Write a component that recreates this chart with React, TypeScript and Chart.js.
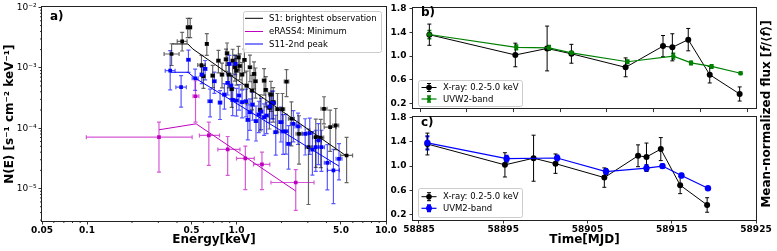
import React, { useEffect, useRef } from 'react';
import { Chart, registerables } from 'chart.js';

Chart.register(...registerables);
const FONT = "'DejaVu Sans', 'Liberation Sans', sans-serif";
Chart.defaults.font.family = FONT;
Chart.defaults.color = '#000';

// ---------------- Panel a: spectra ----------------
const s1Energy = [0.368, 0.433, 0.472, 0.490, 0.583, 0.601, 0.633, 0.693, 0.757, 0.800,
  0.851, 0.865, 0.887, 0.929, 0.943, 0.977, 1.00, 1.03, 1.05, 1.09,
  1.13, 1.17, 1.23, 1.27, 1.31, 1.34, 1.44, 1.53, 1.57, 1.66,
  1.70, 1.76, 1.88, 2.03, 2.16, 2.33, 2.62, 3.03, 3.39, 3.66,
  3.85, 4.23, 4.61, 5.45];
const s1Flux = [1.69e-3, 2.74e-3, 4.67e-3, 4.67e-3, 1.11e-3, 7.24e-4, 2.48e-3, 7.43e-4, 1.31e-3, 7.71e-4,
  1.38e-3, 1.74e-3, 7.71e-4, 4.42e-4, 1.31e-3, 1.02e-3, 8.97e-4, 1.49e-3, 1.07e-3, 7.71e-4,
  1.35e-3, 5.07e-4, 1.02e-3, 4.20e-4, 7.91e-4, 5.98e-4, 2.01e-4, 6.13e-4, 4.30e-4, 2.17e-4,
  3.60e-4, 2.69e-4, 2.06e-4, 2.06e-4, 5.9e-4, 1.43e-4, 8.05e-5, 4.85e-5, 7.1e-5, 7.0e-5,
  2.09e-4, 1.04e-4, 1.11e-4, 3.53e-5];
const s1EnergyErrDex = [0.05, 0.033, 0.01, 0.01, 0.025, 0.01, 0.01, 0.012, 0.012, 0.012,
  0.012, 0.012, 0.012, 0.012, 0.012, 0.012, 0.012, 0.012, 0.012, 0.012,
  0.012, 0.012, 0.012, 0.012, 0.012, 0.012, 0.012, 0.012, 0.012, 0.015,
  0.015, 0.015, 0.015, 0.015, 0.015, 0.02, 0.02, 0.02, 0.02, 0.02,
  0.02, 0.04, 0.02, 0.04];
const s1FluxErrUpDex = [0.17, 0.15, 0.15, 0.15, 0.16, 0.18, 0.17, 0.17, 0.17, 0.19,
  0.17, 0.17, 0.19, 0.22, 0.19, 0.2, 0.2, 0.18, 0.2, 0.2,
  0.18, 0.24, 0.2, 0.25, 0.2, 0.22, 0.25, 0.2, 0.22, 0.25,
  0.22, 0.24, 0.26, 0.26, 0.2, 0.28, 0.3, 0.3, 0.3, 0.3,
  0.2, 0.28, 0.28, 0.3];
const s1FluxErrDnDex = [0.19, 0.16, 0.17, 0.17, 0.18, 0.2, 0.19, 0.2, 0.2, 0.22,
  0.2, 0.2, 0.22, 0.3, 0.22, 0.23, 0.24, 0.21, 0.23, 0.24,
  0.21, 0.3, 0.24, 0.32, 0.25, 0.28, 0.35, 0.24, 0.28, 0.35,
  0.28, 0.33, 0.38, 0.36, 0.25, 0.45, 0.5, 0.95, 0.5, 0.5,
  0.25, 0.4, 0.4, 0.45];

const s11Energy = [0.360, 0.426, 0.477, 0.529, 0.586, 0.617, 0.666, 0.711, 0.776, 0.830,
  0.873, 0.896, 0.919, 0.982, 0.943, 1.00, 1.04, 1.09, 1.16, 1.19,
  1.23, 1.28, 1.35, 1.41, 1.46, 1.53, 1.59, 1.67, 1.72, 1.76,
  1.83, 1.98, 2.05, 2.14, 2.23, 2.40, 2.58, 2.88, 3.09, 3.22,
  3.39, 3.53, 3.70, 4.05, 4.45, 4.85];
const s11Flux = [8.97e-4, 4.77e-4, 1.36e-3, 6.70e-4, 7.71e-4, 9.57e-4, 2.79e-4, 5.98e-4, 2.65e-4, 3.60e-4,
  5.61e-4, 1.16e-3, 5.07e-4, 1.16e-3, 2.94e-4, 2.87e-4, 3.47e-4, 2.69e-4, 2.79e-4, 1.37e-4,
  1.84e-4, 2.46e-4, 1.31e-4, 1.68e-4, 1.88e-4, 1.52e-4, 1.62e-4, 2.28e-4, 2.59e-4, 2.59e-4,
  8.59e-5, 1.26e-4, 8.8e-5, 8.9e-5, 5.5e-5, 1.18e-4, 1.07e-4, 8.05e-5, 8.26e-5, 4.39e-5,
  4.85e-5, 6.25e-5, 4.85e-5, 2.67e-5, 2.0e-5, 3.11e-5];
const s11EnergyErrDex = [0.033, 0.035, 0.012, 0.02, 0.012, 0.012, 0.015, 0.012, 0.012, 0.012,
  0.012, 0.012, 0.012, 0.012, 0.012, 0.012, 0.012, 0.012, 0.012, 0.012,
  0.012, 0.012, 0.012, 0.012, 0.012, 0.012, 0.012, 0.015, 0.015, 0.015,
  0.015, 0.015, 0.015, 0.015, 0.015, 0.02, 0.02, 0.02, 0.02, 0.02,
  0.02, 0.02, 0.02, 0.02, 0.04, 0.02];
const s11FluxErrUpDex = [0.33, 0.19, 0.16, 0.15, 0.12, 0.14, 0.2, 0.15, 0.2, 0.18,
  0.15, 0.14, 0.17, 0.14, 0.2, 0.2, 0.18, 0.2, 0.2, 0.25,
  0.22, 0.2, 0.25, 0.22, 0.22, 0.22, 0.22, 0.2, 0.2, 0.2,
  0.28, 0.25, 0.28, 0.28, 0.3, 0.22, 0.22, 0.25, 0.25, 0.3,
  0.28, 0.28, 0.28, 0.3, 0.35, 0.25];
const s11FluxErrDnDex = [0.32, 0.33, 0.21, 0.2, 0.15, 0.18, 0.26, 0.2, 0.28, 0.24,
  0.2, 0.18, 0.22, 0.18, 0.26, 0.26, 0.24, 0.26, 0.26, 0.33,
  0.3, 0.26, 0.33, 0.3, 0.3, 0.3, 0.3, 0.26, 0.26, 0.26,
  0.38, 0.33, 0.38, 0.38, 0.42, 0.3, 0.3, 0.35, 0.35, 0.42,
  0.4, 0.4, 0.4, 0.45, 0.55, 0.35];

const eraEnergy = [0.303, 0.532, 0.653, 0.873, 1.146, 1.48, 2.49];
const eraEnergyLo = [0.099, 0.512, 0.565, 0.75, 1.0, 1.30, 1.70];
const eraEnergyHi = [0.505, 0.56, 0.77, 1.055, 1.315, 1.67, 3.30];
const eraFlux = [7.1e-5, 3.38e-4, 7.57e-5, 4.44e-5, 3.15e-5, 2.51e-5, 1.26e-5];
const eraFluxLo = [1.87e-5, 1.26e-4, 2.42e-5, 1.65e-5, 9.57e-6, 9.6e-6, 4.35e-6];
const eraFluxHi = [1.26e-4, 6.1e-4, 1.26e-4, 7.28e-5, 5.05e-5, 4.0e-5, 2.05e-5];

const s1ModelEnergy = [0.372, 0.473, 0.51, 5.37];
const s1ModelFlux = [2.48e-3, 2.48e-3, 2.05e-3, 3.53e-5];
const s11ModelEnergy = [0.362, 0.473, 0.526, 4.85];
const s11ModelFlux = [8.43e-4, 8.43e-4, 6.79e-4, 2.35e-5];
const eraModelEnergy = [0.303, 0.537, 2.49];
const eraModelFlux = [9.4e-5, 1.18e-4, 9.1e-6];

const energyTicks = [0.05, 0.1, 0.5, 1, 5, 10];
const energyTickLabels = ['0.05', '0.1', '0.5', '1.0', '5.0', '10.0'];
const fluxTicks = [1e-5, 1e-4, 1e-3, 1e-2];
const fluxTickLabels = ['10⁻⁵', '10⁻⁴', '10⁻³', '10⁻²'];
const legendA = ['S1: brightest observation', 'eRASS4: Minimum', 'S11-2nd peak'];

// ---------------- Panels b, c: light curves ----------------
const xrayMjd = [58886.0, 58895.2, 58898.6, 58901.2, 58907.0, 58911.0, 58912.0, 58913.7, 58916.0, 58919.2];
const xrayFlux = [1.364, 1.02, 1.13, 1.04, 0.81, 1.17, 1.15, 1.28, 0.685, 0.358];
const xrayErr = [0.18, 0.2, 0.38, 0.16, 0.16, 0.18, 0.23, 0.19, 0.14, 0.12];
const uvw2Mjd = [58886.0, 58895.3, 58898.8, 58901.2, 58907.2, 58912.1, 58914.0, 58916.2, 58919.3];
const uvw2Flux = [1.367, 1.15, 1.14, 1.055, 0.905, 1.0, 0.885, 0.825, 0.71];
const uvw2Err = [0.07, 0.04, 0.04, 0.03, 0.03, 0.05, 0.03, 0.03, 0.02];
const uvm2Mjd = [58886.0, 58895.4, 58901.4, 58907.2, 58912.0, 58913.9, 58916.15, 58919.3];
const uvm2Flux = [1.383, 1.122, 1.133, 0.91, 0.967, 1.0, 0.845, 0.633];
const uvm2Err = [0.11, 0.05, 0.04, 0.04, 0.05, 0.03, 0.03, 0.02];
const normTicks = [0.2, 0.6, 1.0, 1.4, 1.8];
const mjdTicksB = [58885, 58890, 58895, 58900, 58905, 58910, 58915, 58920];
const mjdTicksC = [58885, 58895, 58905, 58915, 58925];

const BLACK = '#000000', MAG = '#bf00bf', BLUE = '#0000ff', GREEN = '#008000';

const pts = (xs: number[], ys: number[]) => xs.map((x, i) => ({ x, y: ys[i] }));
const dexLo = (v: number[], d: number[]) => v.map((x, i) => x * Math.pow(10, -d[i]));
const dexHi = (v: number[], d: number[]) => v.map((x, i) => x * Math.pow(10, d[i]));
const minus = (v: number[], e: number[]) => v.map((x, i) => x - e[i]);
const plus = (v: number[], e: number[]) => v.map((x, i) => x + e[i]);

const errorBarPlugin = {
  id: 'errorBars',
  beforeDatasetsDraw(chart: any) {
    const ctx = chart.ctx;
    const a = chart.chartArea;
    ctx.save();
    ctx.beginPath();
    ctx.rect(a.left, a.top - 2, a.right - a.left, a.bottom - a.top + 4);
    ctx.clip();
    chart.data.datasets.forEach((ds: any) => {
      const e = ds.errorBars;
      if (!e) return;
      const xs = chart.scales[ds.xAxisID || 'x'];
      const ys = chart.scales[ds.yAxisID || 'y'];
      ctx.strokeStyle = e.color;
      ctx.lineWidth = e.width;
      ds.data.forEach((p: any, j: number) => {
        const px = xs.getPixelForValue(p.x);
        const py = ys.getPixelForValue(p.y);
        ctx.beginPath();
        if (e.xlo) {
          const l = xs.getPixelForValue(e.xlo[j]);
          const r = xs.getPixelForValue(e.xhi[j]);
          ctx.moveTo(l, py); ctx.lineTo(r, py);
          if (e.cap) {
            ctx.moveTo(l, py - e.cap); ctx.lineTo(l, py + e.cap);
            ctx.moveTo(r, py - e.cap); ctx.lineTo(r, py + e.cap);
          }
        }
        if (e.ylo) {
          const b = ys.getPixelForValue(e.ylo[j]);
          const t = ys.getPixelForValue(e.yhi[j]);
          ctx.moveTo(px, b); ctx.lineTo(px, t);
          if (e.cap) {
            ctx.moveTo(px - e.cap, b); ctx.lineTo(px + e.cap, b);
            ctx.moveTo(px - e.cap, t); ctx.lineTo(px + e.cap, t);
          }
        }
        ctx.stroke();
      });
    });
    ctx.restore();
  },
};

type LegendRow = { label: string; color: string; y: number; lw?: number; marker?: number; err?: number; errW?: number };
type LegendSpec = { x: number; y: number; w: number; h: number; x0: number; x1: number; tx: number; size: number; rows: LegendRow[] };

function drawLegend(ctx: CanvasRenderingContext2D, L: LegendSpec) {
  ctx.save();
  ctx.fillStyle = 'rgba(255,255,255,0.85)';
  ctx.strokeStyle = '#cccccc';
  ctx.lineWidth = 1;
  ctx.beginPath();
  (ctx as any).roundRect(L.x + 0.5, L.y + 0.5, L.w, L.h, 2);
  ctx.fill();
  ctx.stroke();
  ctx.font = `${L.size}px ${FONT}`;
  ctx.textBaseline = 'middle';
  ctx.textAlign = 'left';
  L.rows.forEach((r) => {
    ctx.strokeStyle = r.color;
    ctx.lineWidth = r.lw ?? 1;
    ctx.beginPath();
    ctx.moveTo(L.x0, r.y);
    ctx.lineTo(L.x1, r.y);
    ctx.stroke();
    if (r.marker) {
      const cx = (L.x0 + L.x1) / 2;
      const e = r.err ?? 4;
      ctx.lineWidth = r.errW ?? 1;
      ctx.beginPath();
      ctx.moveTo(cx, r.y - e); ctx.lineTo(cx, r.y + e);
      ctx.moveTo(cx - 2, r.y - e); ctx.lineTo(cx + 2, r.y - e);
      ctx.moveTo(cx - 2, r.y + e); ctx.lineTo(cx + 2, r.y + e);
      ctx.stroke();
      ctx.fillStyle = r.color;
      ctx.beginPath();
      ctx.arc(cx, r.y, r.marker, 0, Math.PI * 2);
      ctx.fill();
    }
    ctx.fillStyle = '#000';
    ctx.fillText(r.label, L.tx, r.y + 0.5);
  });
  ctx.restore();
}

type DecorOpts = {
  label: { text: string; x: number; y: number };
  legend: LegendSpec;
  minorX?: number[];
  minorY?: number[];
  extra?: (ctx: CanvasRenderingContext2D) => void;
};

function decor(o: DecorOpts) {
  return {
    id: 'decor',
    afterDraw(chart: any) {
      const ctx: CanvasRenderingContext2D = chart.ctx;
      const a = chart.chartArea;
      ctx.save();
      ctx.strokeStyle = '#000';
      ctx.lineWidth = 0.8;
      ctx.beginPath();
      (o.minorX || []).forEach((v) => {
        const px = chart.scales.x.getPixelForValue(v);
        ctx.moveTo(px, a.bottom); ctx.lineTo(px, a.bottom + 2);
      });
      (o.minorY || []).forEach((v) => {
        const py = chart.scales.y.getPixelForValue(v);
        ctx.moveTo(a.left, py); ctx.lineTo(a.left - 2, py);
      });
      ctx.stroke();
      ctx.strokeStyle = '#222';
      ctx.lineWidth = 1;
      ctx.strokeRect(Math.round(a.left) - 0.5, Math.round(a.top) - 0.5, Math.round(a.right - a.left) + 1, Math.round(a.bottom - a.top) + 1);
      ctx.fillStyle = '#000';
      ctx.font = `bold 12px ${FONT}`;
      ctx.textBaseline = 'middle';
      ctx.textAlign = 'left';
      ctx.fillText(o.label.text, o.label.x, o.label.y);
      ctx.restore();
      drawLegend(ctx, o.legend);
      if (o.extra) o.extra(ctx);
    },
  };
}

const tickGrid = { display: true, drawOnChartArea: false, drawTicks: true, tickLength: 3.5, tickWidth: 0.8, color: '#000', tickColor: '#000' };
const tickFont = { size: 9, weight: 'bold' as const };

function configA(): any {
  const minorX: number[] = [];
  [0.01, 0.1, 1].forEach((d) => {
    for (let k = 2; k <= 9; k++) {
      const v = k * d;
      if (k !== 5 && v > 0.05 && v < 10) minorX.push(v);
    }
  });
  const minorY: number[] = [];
  [1e-6, 1e-5, 1e-4, 1e-3].forEach((d) => {
    for (let k = 2; k <= 9; k++) {
      const v = k * d;
      if (v >= 2.9e-6 && v < 1e-2) minorY.push(v);
    }
  });
  return {
    type: 'scatter',
    data: {
      datasets: [
        { label: legendA[0], data: pts(s1ModelEnergy, s1ModelFlux), showLine: true, borderColor: BLACK, borderWidth: 1, pointRadius: 0, tension: 0, order: 0 },
        { label: legendA[1], data: pts(eraModelEnergy, eraModelFlux), showLine: true, borderColor: MAG, borderWidth: 1, pointRadius: 0, tension: 0, order: 0 },
        { label: legendA[2], data: pts(s11ModelEnergy, s11ModelFlux), showLine: true, borderColor: BLUE, borderWidth: 1, pointRadius: 0, tension: 0, order: 0 },
        {
          label: 'S11 data', data: pts(s11Energy, s11Flux), pointStyle: 'rect', pointRadius: 2.6, pointBackgroundColor: BLUE, pointBorderWidth: 0, order: 1,
          errorBars: { xlo: dexLo(s11Energy, s11EnergyErrDex), xhi: dexHi(s11Energy, s11EnergyErrDex), ylo: dexLo(s11Flux, s11FluxErrDnDex), yhi: dexHi(s11Flux, s11FluxErrUpDex), color: 'rgba(0,0,255,0.65)', width: 1.2, cap: 2 },
        },
        {
          label: 'S1 data', data: pts(s1Energy, s1Flux), pointStyle: 'rect', pointRadius: 2.6, pointBackgroundColor: BLACK, pointBorderWidth: 0, order: 2,
          errorBars: { xlo: dexLo(s1Energy, s1EnergyErrDex), xhi: dexHi(s1Energy, s1EnergyErrDex), ylo: dexLo(s1Flux, s1FluxErrDnDex), yhi: dexHi(s1Flux, s1FluxErrUpDex), color: 'rgba(0,0,0,0.6)', width: 1.2, cap: 2 },
        },
        {
          label: 'eRASS4 data', data: pts(eraEnergy, eraFlux), pointStyle: 'rect', pointRadius: 2.6, pointBackgroundColor: MAG, pointBorderWidth: 0, order: 1,
          errorBars: { xlo: eraEnergyLo, xhi: eraEnergyHi, ylo: eraFluxLo, yhi: eraFluxHi, color: 'rgba(191,0,191,0.65)', width: 1.2, cap: 2 },
        },
      ],
    },
    options: {
      animation: false,
      responsive: false,
      devicePixelRatio: 1,
      events: [],
      layout: { padding: { top: 7, right: 14, left: 0, bottom: 0 } },
      plugins: { legend: { display: false }, tooltip: { enabled: false } },
      scales: {
        x: {
          type: 'logarithmic', min: 0.05, max: 10,
          afterBuildTicks: (s: any) => { s.ticks = energyTicks.map((v) => ({ value: v })); },
          afterFit: (s: any) => { s.height = 30; },
          ticks: { callback: (_v: any, i: number) => energyTickLabels[i], font: tickFont, color: '#000', maxRotation: 0, autoSkip: false, padding: 1 },
          grid: tickGrid, border: { display: false },
          title: { display: true, text: 'Energy[keV]', font: { size: 12, weight: 'bold' }, color: '#000', padding: { top: 0, bottom: 4 } },
        },
        y: {
          type: 'logarithmic', min: 2.9e-6, max: 1e-2,
          afterBuildTicks: (s: any) => { s.ticks = fluxTicks.map((v) => ({ value: v })); },
          afterFit: (s: any) => { s.width = 42; },
          ticks: { callback: (_v: any, i: number) => fluxTickLabels[i], font: { size: 9 }, color: '#000', autoSkip: false, padding: 2 },
          grid: tickGrid, border: { display: false },
          title: { display: true, text: 'N(E) [s⁻¹ cm⁻² keV⁻¹]', font: { size: 12, weight: 'bold' }, color: '#000', padding: { top: 3, bottom: 0 } },
        },
      },
    },
    plugins: [errorBarPlugin, decor({
      label: { text: 'a)', x: 50, y: 16.5 },
      minorX, minorY,
      legend: {
        x: 243, y: 11, w: 138, h: 41, x0: 245, x1: 263, tx: 269, size: 8.5,
        rows: [
          { label: legendA[0], color: BLACK, y: 18.3 },
          { label: legendA[1], color: MAG, y: 31.5 },
          { label: legendA[2], color: BLUE, y: 44 },
        ],
      },
    })],
  };
}

function lcConfig(panel: 'b' | 'c'): any {
  const isB = panel === 'b';
  const uvMjd = isB ? uvw2Mjd : uvm2Mjd;
  const uvFlux = isB ? uvw2Flux : uvm2Flux;
  const uvErr = isB ? uvw2Err : uvm2Err;
  const uvColor = isB ? GREEN : BLUE;
  const uvLabel = isB ? 'UVW2-band' : 'UVM2-band';
  const xTicks = isB ? mjdTicksB : mjdTicksC;
  const top = isB ? 7 : 117;
  const legendTop = isB ? 80 : 188;
  return {
    type: 'scatter',
    data: {
      datasets: [
        {
          label: uvLabel, data: pts(uvMjd, uvFlux), showLine: true, borderColor: uvColor, borderWidth: isB ? 1.2 : 1.2, tension: 0,
          pointRadius: isB ? 2.3 : 3.2, pointBackgroundColor: uvColor, pointBorderWidth: 0, order: 0,
          errorBars: { ylo: minus(uvFlux, uvErr), yhi: plus(uvFlux, uvErr), color: uvColor, width: isB ? 1.5 : 2, cap: 2 },
        },
        {
          label: 'X-ray: 0.2-5.0 keV', data: pts(xrayMjd, xrayFlux), showLine: true, borderColor: BLACK, borderWidth: 1, tension: 0,
          pointRadius: 3, pointBackgroundColor: BLACK, pointBorderWidth: 0, order: 1,
          errorBars: { ylo: minus(xrayFlux, xrayErr), yhi: plus(xrayFlux, xrayErr), color: BLACK, width: 1, cap: 2 },
        },
      ],
    },
    options: {
      animation: false,
      responsive: false,
      devicePixelRatio: 1,
      events: [],
      layout: { padding: { top, right: 21, left: 0, bottom: 0 } },
      plugins: { legend: { display: false }, tooltip: { enabled: false } },
      scales: {
        x: {
          type: 'linear', min: isB ? 58884.25 : 58884.29, max: isB ? 58920.95 : 58925,
          afterBuildTicks: (s: any) => { s.ticks = xTicks.map((v) => ({ value: v })); },
          afterFit: (s: any) => { s.height = isB ? 7 : 31; },
          ticks: { display: !isB, callback: (v: any) => String(v), font: tickFont, color: '#000', maxRotation: 0, autoSkip: false, padding: 1 },
          grid: tickGrid, border: { display: false },
          title: { display: !isB, text: 'Time[MJD]', font: { size: 12, weight: 'bold' }, color: '#000', padding: { top: 0, bottom: 4 } },
        },
        y: {
          type: 'linear', min: 0.11, max: 1.81,
          afterBuildTicks: (s: any) => { s.ticks = normTicks.map((v) => ({ value: v })); },
          afterFit: (s: any) => { s.width = 33; },
          ticks: { callback: (v: any) => Number(v).toFixed(1), font: tickFont, color: '#000', autoSkip: false, padding: 3 },
          grid: tickGrid, border: { display: false },
        },
      },
    },
    plugins: [errorBarPlugin, decor({
      label: { text: isB ? 'b)' : 'c)', x: 41, y: isB ? 13.3 : 122.5 },
      legend: {
        x: 38, y: legendTop, w: 104, h: isB ? 26 : 29, x0: 41.5, x1: 56.5, tx: 63, size: 8.5,
        rows: [
          { label: 'X-ray: 0.2-5.0 keV', color: BLACK, y: legendTop + (isB ? 7.5 : 8.7), marker: 2.8, err: 4, errW: 1 },
          { label: uvLabel, color: uvColor, y: legendTop + (isB ? 19 : 20.3), marker: isB ? 2.2 : 3, err: 3, errW: isB ? 1.5 : 2, lw: 1.2 },
        ],
      },
      extra: isB ? undefined : (ctx) => {
        const parts: [string, string][] = [
          ['Mean-normalized flux [', 'bold'],
          ['f', 'italic bold'],
          ['/⟨', 'bold'],
          ['f', 'italic bold'],
          ['⟩]', 'bold'],
        ];
        ctx.save();
        ctx.translate(387, 114);
        ctx.rotate(-Math.PI / 2);
        ctx.fillStyle = '#000';
        ctx.textBaseline = 'middle';
        ctx.textAlign = 'left';
        let total = 0;
        parts.forEach(([t, st]) => { ctx.font = `${st} 12px ${FONT}`; total += ctx.measureText(t).width; });
        let x = -total / 2;
        parts.forEach(([t, st]) => { ctx.font = `${st} 12px ${FONT}`; ctx.fillText(t, x, 0); x += ctx.measureText(t).width; });
        ctx.restore();
      },
    })],
  };
}

function ChartCanvas({ make, left, top, width, height }: { make: () => any; left: number; top: number; width: number; height: number }) {
  const ref = useRef<HTMLCanvasElement>(null);
  useEffect(() => {
    const chart = new Chart(ref.current as HTMLCanvasElement, make());
    return () => chart.destroy();
  }, []);
  return (
    <canvas
      ref={ref}
      width={width}
      height={height}
      style={{ position: 'absolute', left, top, width, height }}
    />
  );
}

export default function App() {
  return (
    <div style={{ position: 'fixed', left: 0, top: 0, width: 777, height: 251, background: '#fff', overflow: 'hidden' }}>
      <ChartCanvas make={configA} left={0} top={0} width={400} height={251} />
      <ChartCanvas make={() => lcConfig('c')} left={380} top={0} width={397} height={251} />
      <ChartCanvas make={() => lcConfig('b')} left={380} top={0} width={397} height={117} />
    </div>
  );
}
